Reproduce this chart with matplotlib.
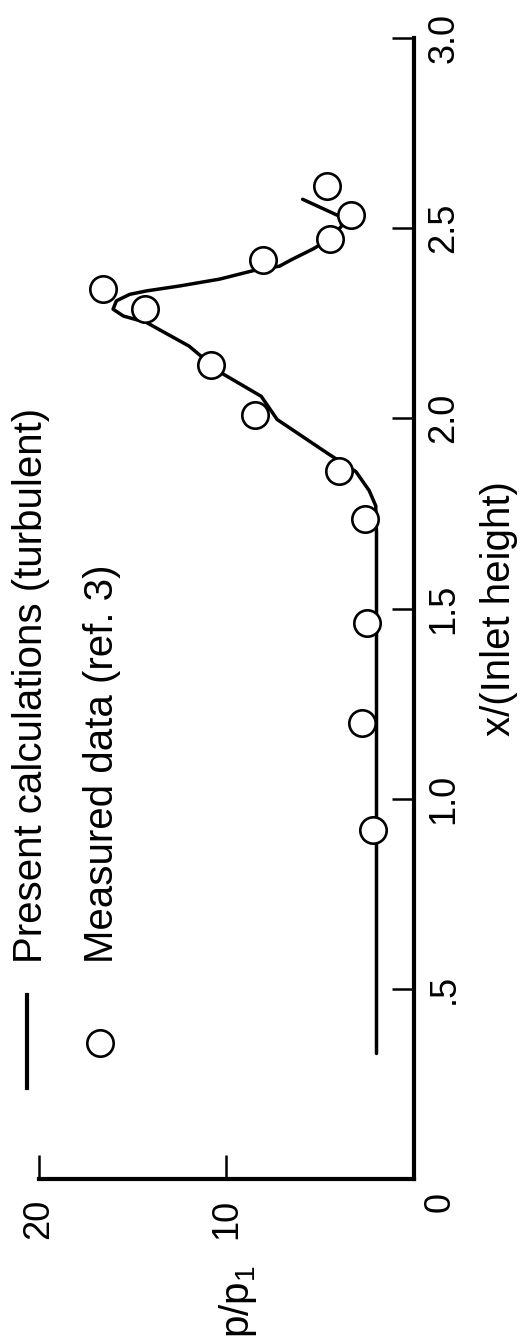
import matplotlib
matplotlib.use("Agg")
import matplotlib.pyplot as plt
from matplotlib import font_manager as fm
from matplotlib.lines import Line2D
from matplotlib.transforms import ScaledTranslation


def pick(names):
    for n in names:
        try:
            fm.findfont(fm.FontProperties(family=n), fallback_to_default=False)
            return n
        except Exception:
            pass
    return "DejaVu Sans"


MAIN_FONT = pick(["Liberation Sans", "Arimo", "DejaVu Sans"])
NUM_FONT = pick(["Liberation Sans Narrow", "DejaVu Sans Condensed",
                 "Liberation Sans", "DejaVu Sans"])
NUM_SIZE = 29 if NUM_FONT in ("Liberation Sans Narrow", "DejaVu Sans Condensed") else 26
plt.rcParams["font.family"] = [MAIN_FONT, "DejaVu Sans"]
plt.rcParams["mathtext.fontset"] = "custom"
plt.rcParams["mathtext.rm"] = MAIN_FONT
plt.rcParams["mathtext.it"] = MAIN_FONT

# ---- data (x/(inlet height), p/p1) ----
calc_x = [0.33, 1.00, 1.70, 1.77, 1.81, 1.86, 1.905, 1.997, 2.058, 2.12, 2.19,
          2.252, 2.269, 2.287, 2.309, 2.326, 2.335, 2.348, 2.366, 2.388, 2.40,
          2.418, 2.445, 2.471, 2.506, 2.532, 2.576]
calc_p = [2.0, 2.0, 2.0, 2.04, 2.39, 3.10, 4.52, 7.3, 8.15, 10.3, 12.0,
          14.27, 15.5, 16.05, 15.87, 15.16, 14.27, 12.5, 10.37, 8.6, 7.18,
          6.5, 5.4, 4.5, 3.85, 4.0, 5.94]

meas_x = [0.917, 1.199, 1.462, 1.736, 1.861, 2.008, 2.139, 2.287, 2.341,
          2.417, 2.471, 2.534, 2.61]
meas_p = [2.2, 2.75, 2.5, 2.6, 4.0, 8.46, 10.85, 14.36, 16.6,
          8.07, 4.49, 3.37, 4.66]

x_ticks = [0.5, 1.0, 1.5, 2.0, 2.5, 3.0]
x_tick_labels = [".5", "1.0", "1.5", "2.0", "2.5", "3.0"]
p_ticks = [0, 10, 20]
p_tick_labels = ["0", "10", "20"]

legend_labels = ["Present calculations (turbulent)", "Measured data (ref. 3)"]
x_label = "x/(Inlet height)"
p_label = "p/p$_1$"

W, H = 530, 1343
fig = plt.figure(figsize=(W / 100, H / 100), dpi=100)
L, R, B, T = 39, 414, 1179, 38
ax = fig.add_axes([L / W, 1 - B / H, (R - L) / W, (B - T) / H])

# rotated chart: horizontal = p/p1 (increasing leftward), vertical = x
ax.plot(calc_p, calc_x, color="black", lw=2.5, solid_joinstyle="round",
        solid_capstyle="round", zorder=2)
ax.plot(meas_p, meas_x, linestyle="none", marker="o", ms=19, mew=1.9,
        mfc="white", mec="black", zorder=3)

ax.set_xlim(20, 0)
ax.set_ylim(0, 3)

for s in ["top", "left"]:
    ax.spines[s].set_visible(False)
for s in ["bottom", "right"]:
    ax.spines[s].set_linewidth(3.0)
    ax.spines[s].set_capstyle("projecting")

ax.yaxis.tick_right()
ax.yaxis.set_label_position("right")
ax.set_yticks(x_ticks)
ax.set_yticklabels(x_tick_labels, family=NUM_FONT, fontsize=NUM_SIZE)
ax.tick_params(axis="y", which="both", direction="in", length=16, width=1.8,
               pad=9, left=False, right=True)
for lab in ax.get_yticklabels():
    lab.set_rotation(90)
    lab.set_va("center")
    lab.set_ha("left")

ax.set_xticks(p_ticks)
ax.set_xticklabels(p_tick_labels, family=NUM_FONT, fontsize=NUM_SIZE)
ax.tick_params(axis="x", which="both", direction="in", length=17, width=1.8,
               pad=14, top=False, bottom=True)
for lab in ax.get_xticklabels():
    lab.set_rotation(90)
    lab.set_ha("center")
    lab.set_va("top")
# shared zero label sits at the corner, nudged to the right
zero_lab = ax.get_xticklabels()[0]
zero_lab.set_transform(zero_lab.get_transform() +
                       ScaledTranslation(26 / 100, 6 / 100, fig.dpi_scale_trans))

ax.set_ylabel(x_label, fontsize=29, rotation=90)
ax.yaxis.set_label_coords((480 - L) / (R - L), 0.5)
ax.set_xlabel(p_label, fontsize=29, rotation=90, va="top", ha="center")
ax.xaxis.set_label_coords((238 - L) / (R - L), (B - 1265) / (B - T))

# legend (rotated)
fig.add_artist(Line2D([27 / W, 27 / W], [1 - 995 / H, 1 - 1088 / H],
                      transform=fig.transFigure, color="black", lw=3.0))
fig.add_artist(Line2D([100 / W], [1 - 1043 / H], transform=fig.transFigure,
                      linestyle="none", marker="o", ms=19, mew=1.9,
                      mfc="white", mec="black"))
fig.text(31 / W, 1 - 963 / H, legend_labels[0], rotation=90, fontsize=29,
         ha="center", va="bottom")
fig.text(102 / W, 1 - 963 / H, legend_labels[1], rotation=90, fontsize=29,
         ha="center", va="bottom")

fig.savefig("out.png", dpi=100)
